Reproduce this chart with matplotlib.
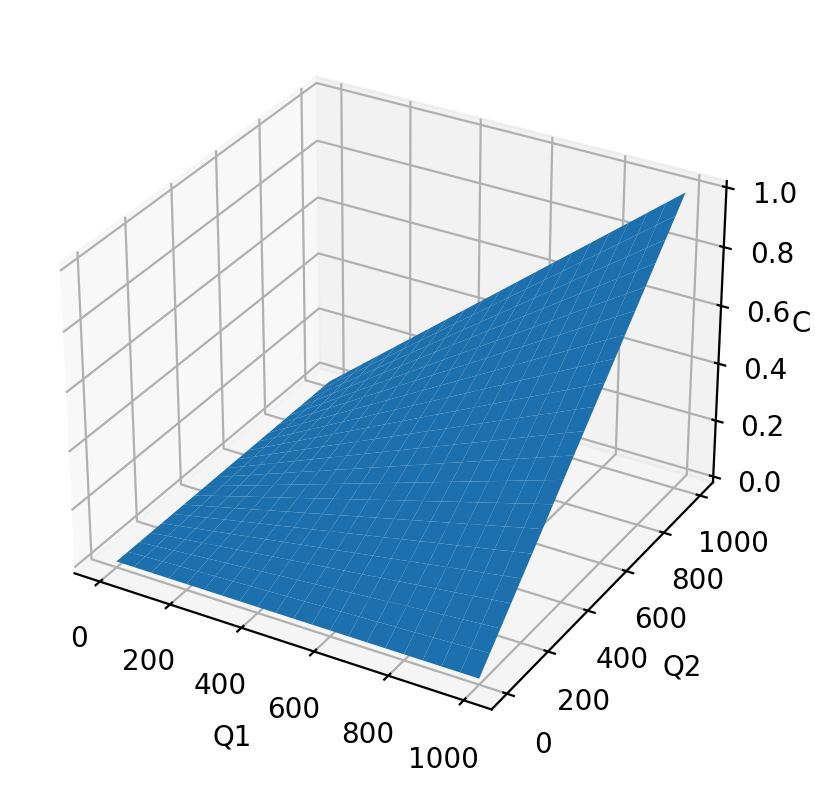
import numpy as np
import matplotlib
matplotlib.use("Agg")
import matplotlib.pyplot as plt

# values, on a coarse grid
q1 = [0, 50, 100, 150, 200, 250, 300, 350, 400, 450, 500, 550, 600, 650, 700, 750, 800, 850, 900, 950, 1000]
q2 = [0, 50, 100, 150, 200, 250, 300, 350, 400, 450, 500, 550, 600, 650, 700, 750, 800, 850, 900, 950, 1000]
c = [
    [0, 0, 0, 0, 0, 0, 0, 0, 0, 0, 0, 0, 0, 0, 0, 0, 0, 0, 0, 0, 0],
    [0, .003, .005, .008, .010, .013, .015, .018, .020, .023, .025, .028, .030, .033, .035, .038, .040, .043, .045, .048, .050],
    [0, .005, .010, .015, .020, .025, .030, .035, .040, .045, .050, .055, .060, .065, .070, .075, .080, .085, .090, .095, .100],
    [0, .008, .015, .023, .030, .038, .045, .053, .060, .068, .075, .083, .090, .098, .105, .113, .120, .128, .135, .143, .150],
    [0, .010, .020, .030, .040, .050, .060, .070, .080, .090, .100, .110, .120, .130, .140, .150, .160, .170, .180, .190, .200],
    [0, .013, .025, .038, .050, .063, .075, .088, .100, .113, .125, .138, .150, .163, .175, .188, .200, .213, .225, .238, .250],
    [0, .015, .030, .045, .060, .075, .090, .105, .120, .135, .150, .165, .180, .195, .210, .225, .240, .255, .270, .285, .300],
    [0, .018, .035, .053, .070, .088, .105, .123, .140, .158, .175, .193, .210, .228, .245, .263, .280, .298, .315, .333, .350],
    [0, .020, .040, .060, .080, .100, .120, .140, .160, .180, .200, .220, .240, .260, .280, .300, .320, .340, .360, .380, .400],
    [0, .023, .045, .068, .090, .113, .135, .158, .180, .203, .225, .248, .270, .293, .315, .338, .360, .383, .405, .428, .450],
    [0, .025, .050, .075, .100, .125, .150, .175, .200, .225, .250, .275, .300, .325, .350, .375, .400, .425, .450, .475, .500],
    [0, .028, .055, .083, .110, .138, .165, .193, .220, .248, .275, .303, .330, .358, .385, .413, .440, .468, .495, .523, .550],
    [0, .030, .060, .090, .120, .150, .180, .210, .240, .270, .300, .330, .360, .390, .420, .450, .480, .510, .540, .570, .600],
    [0, .033, .065, .098, .130, .163, .195, .228, .260, .293, .325, .358, .390, .423, .455, .488, .520, .553, .585, .618, .650],
    [0, .035, .070, .105, .140, .175, .210, .245, .280, .315, .350, .385, .420, .455, .490, .525, .560, .595, .630, .665, .700],
    [0, .038, .075, .113, .150, .188, .225, .263, .300, .338, .375, .413, .450, .488, .525, .563, .600, .638, .675, .713, .750],
    [0, .040, .080, .120, .160, .200, .240, .280, .320, .360, .400, .440, .480, .520, .560, .600, .640, .680, .720, .760, .800],
    [0, .043, .085, .128, .170, .213, .255, .298, .340, .383, .425, .468, .510, .553, .595, .638, .680, .723, .765, .808, .850],
    [0, .045, .090, .135, .180, .225, .270, .315, .360, .405, .450, .495, .540, .585, .630, .675, .720, .765, .810, .855, .900],
    [0, .048, .095, .143, .190, .238, .285, .333, .380, .428, .475, .523, .570, .618, .665, .713, .760, .808, .855, .903, .950],
    [0, .050, .100, .150, .200, .250, .300, .350, .400, .450, .500, .550, .600, .650, .700, .750, .800, .850, .900, .950, 1.00],
]

fig = plt.figure(figsize=(4.075, 3.96), dpi=200)
ax = fig.add_subplot(projection="3d")
ax.set_position([0.0247, 0.0437, 3.696 / 4.075, 3.696 / 3.96])
ax.set_box_aspect((4, 4, 2.95))

Q1, Q2 = np.meshgrid(q1, q2)
# the reference's blue is close to the plain C0, so no light shading
ax.plot_surface(Q1, Q2, np.array(c), rstride=1, cstride=1, color="#1c70ad", shade=False)
ax.set_xlabel("Q1")
ax.set_ylabel("Q2")
ax.set_zlabel("C", rotation=0, labelpad=-3)
ax.tick_params(axis="z", pad=2.5)

fig.savefig("out.png", dpi=200)
